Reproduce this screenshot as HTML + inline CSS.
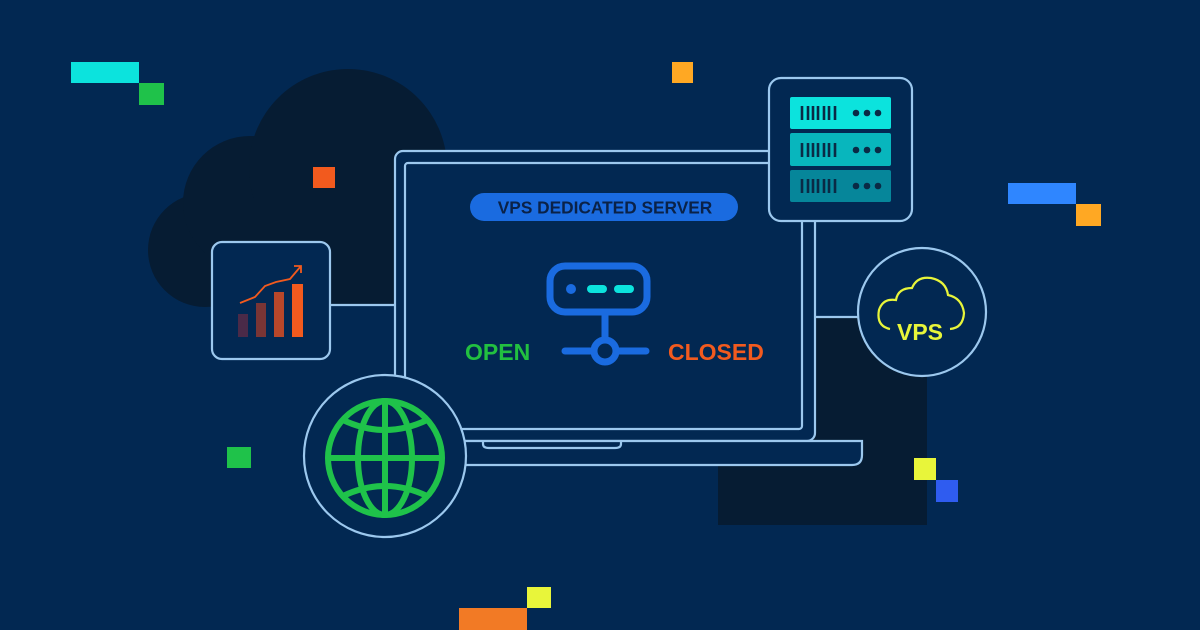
<!DOCTYPE html>
<html><head><meta charset="utf-8"><style>
html,body{margin:0;padding:0;background:#022852;}
svg{display:block}
text{font-family:"Liberation Sans",sans-serif;font-weight:bold}
</style></head><body>
<svg width="1200" height="630" viewBox="0 0 1200 630" xmlns="http://www.w3.org/2000/svg">
<rect width="1200" height="630" fill="#022852"/>
<g fill="#061c33">
<circle cx="205" cy="250" r="57"/>
<circle cx="250" cy="203" r="67"/>
<circle cx="348" cy="168" r="99"/>
<rect x="205" y="200" width="190" height="105"/>
<rect x="718" y="318" width="209" height="207"/>
</g>
<rect x="71" y="62" width="68" height="21" fill="#0ce3dd"/>
<rect x="139" y="83" width="25" height="22" fill="#1fc24a"/>
<rect x="672" y="62" width="21" height="21" fill="#ffa823"/>
<rect x="313" y="167" width="22" height="21" fill="#f25a1e"/>
<rect x="1008" y="183" width="68" height="21" fill="#2f86ff"/>
<rect x="1076" y="204" width="25" height="22" fill="#ffa823"/>
<rect x="227" y="447" width="24" height="21" fill="#1fc24a"/>
<rect x="914" y="458" width="22" height="22" fill="#e8f53a"/>
<rect x="936" y="480" width="22" height="22" fill="#2f5cf0"/>
<rect x="459" y="608" width="68" height="22" fill="#f27a25"/>
<rect x="527" y="587" width="24" height="21" fill="#e8f53a"/>
<g fill="none" stroke="#9cc8ee" stroke-width="2.2">
<rect x="395" y="151" width="420" height="290" rx="8" fill="#022852"/>
<rect x="405" y="163" width="397" height="266" rx="3"/>
<path d="M330 441 H862 V455 Q862 465 852 465 H330" fill="#022852"/>
<path d="M483 441 V444 Q483 448 489 448 H615 Q621 448 621 444 V441"/>
<line x1="330" y1="305" x2="395" y2="305"/>
<line x1="815" y1="317" x2="858" y2="317"/>
<rect x="769" y="78" width="143" height="143" rx="12" fill="#022852"/>
<rect x="212" y="242" width="118" height="117" rx="10" fill="#022852"/>
<circle cx="922" cy="312" r="64" fill="#022852"/>
<circle cx="385" cy="456" r="81" fill="#022852"/>
</g>
<rect x="790" y="97" width="101" height="32" rx="2" fill="#0ce3dd"/>
<rect x="790" y="133" width="101" height="33" rx="2" fill="#08b6bd"/>
<rect x="790" y="170" width="101" height="32" rx="2" fill="#06869a"/>
<g stroke="#0a2a45" stroke-width="2.6">
<path d="M802 106v14M808 106v14M813 106v14M818 106v14M824 106v14M829 106v14M835 106v14"/>
<path d="M802 143v14M808 143v14M813 143v14M818 143v14M824 143v14M829 143v14M835 143v14"/>
<path d="M802 179v14M808 179v14M813 179v14M818 179v14M824 179v14M829 179v14M835 179v14"/>
</g>
<g fill="#0a2a45">
<circle cx="856" cy="113" r="3.3"/><circle cx="867" cy="113" r="3.3"/><circle cx="878" cy="113" r="3.3"/>
<circle cx="856" cy="150" r="3.3"/><circle cx="867" cy="150" r="3.3"/><circle cx="878" cy="150" r="3.3"/>
<circle cx="856" cy="186" r="3.3"/><circle cx="867" cy="186" r="3.3"/><circle cx="878" cy="186" r="3.3"/>
</g>
<rect x="238" y="314" width="10" height="23" fill="#4a2a48"/>
<rect x="256" y="303" width="10" height="34" fill="#7a3535"/>
<rect x="274" y="292" width="10" height="45" fill="#b8472a"/>
<rect x="292" y="284" width="11" height="53" fill="#f25a1e"/>
<path d="M240 303 L255 297 L265 286 L276 282 L290 279 L301 266 M294 266 H301 V273" fill="none" stroke="#f25a1e" stroke-width="1.8"/>
<rect x="470" y="193" width="268" height="28" rx="14" fill="#1a6be0"/>
<text x="605" y="213.5" font-size="17.3" fill="#0a2248" text-anchor="middle">VPS DEDICATED SERVER</text>
<g fill="none" stroke="#1a6be0" stroke-width="7" stroke-linecap="round">
<rect x="550" y="266" width="97" height="46" rx="15"/>
<line x1="605" y1="312" x2="605" y2="338"/>
<line x1="565" y1="351" x2="592" y2="351"/>
<line x1="618" y1="351" x2="646" y2="351"/>
<circle cx="605" cy="351" r="11"/>
</g>
<circle cx="571" cy="289" r="5" fill="#1a6be0"/>
<rect x="587" y="285" width="20" height="8" rx="4" fill="#0ce3dd"/>
<rect x="614" y="285" width="20" height="8" rx="4" fill="#0ce3dd"/>
<text x="465" y="360" font-size="23" fill="#22c040">OPEN</text>
<text x="668" y="360" font-size="23" fill="#f25a1e">CLOSED</text>
<path d="M890 329 Q876 326 879 310 Q883 298 896 300 Q898 288 912 288 Q917 276 931 278 Q946 281 948 295 Q962 298 964 313 Q963 328 950 329" fill="none" stroke="#e8f53a" stroke-width="2.2"/>
<text x="920" y="340" font-size="23" fill="#e8f53a" text-anchor="middle">VPS</text>
<g fill="none" stroke="#1fc24a" stroke-width="6">
<circle cx="385" cy="458" r="57"/>
<ellipse cx="385" cy="458" rx="27" ry="57"/>
<line x1="385" y1="401" x2="385" y2="515"/>
<line x1="328" y1="458" x2="442" y2="458"/>
<path d="M343 420 Q385 440 427 420"/>
<path d="M343 496 Q385 476 427 496"/>
</g>
</svg>
</body></html>
